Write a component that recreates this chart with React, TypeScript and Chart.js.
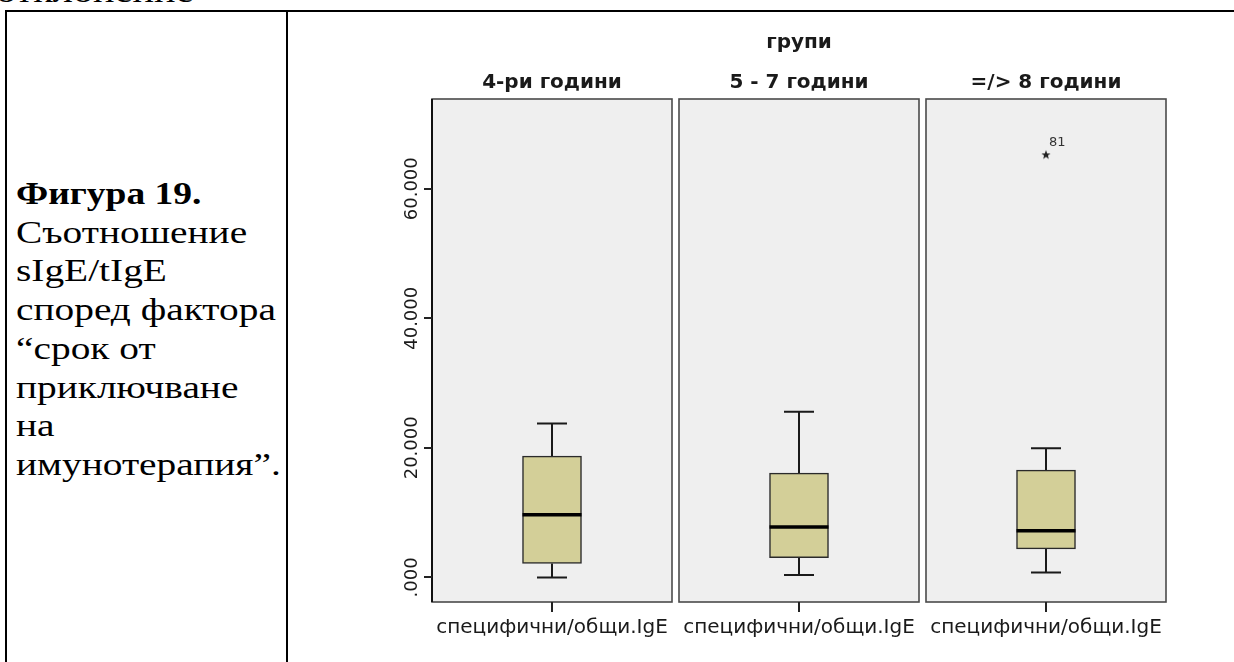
import React, { useEffect, useRef } from "react";
import { Chart, registerables } from "chart.js";

Chart.register(...registerables);

// Box-plot summary per group (SPSS style): whisker ends, quartiles, median
const groupLabels = ["4-ри години", "5 - 7 години", "=/> 8 години"];
const groupPositions = [0, 1, 2];
const whiskerLow = [0.0, 0.35, 0.77];
const quartile1 = [2.16, 3.03, 4.41];
const medians = [9.66, 7.76, 7.19];
const quartile3 = [18.72, 16.1, 16.56];
const whiskerHigh = [23.77, 25.56, 19.95];

// Extreme values (star markers) with their case numbers
const extremeGroup = [2];
const extremeValue = [65.3];
const extremeCase = ["81"];

const yTickValues = [0, 20, 40, 60];
const yTickLabels = [".000", "20.000", "40.000", "60.000"];
const variableLabel = "специфични/общи.IgE";
const factorTitle = "групи";

const captionBold = "Фигура 19.";
const captionLines = [
  "Съотношение",
  "sIgE/tIgE",
  "според фактора",
  "“срок от",
  "приключване",
  "на",
  "имунотерапия”.",
];

const PANEL_HALF = 120 / 247;
const CAP_HALF = 15;
const SANS = '"DejaVu Sans", sans-serif';

function makeStar(): HTMLCanvasElement {
  const c = document.createElement("canvas");
  c.width = 12;
  c.height = 12;
  const g = c.getContext("2d")!;
  g.fillStyle = "#222";
  g.beginPath();
  for (let k = 0; k < 10; k++) {
    const r = k % 2 === 0 ? 4.8 : 2.0;
    const a = -Math.PI / 2 + (k * Math.PI) / 5;
    const px = 6 + r * Math.cos(a);
    const py = 6.5 + r * Math.sin(a);
    if (k === 0) g.moveTo(px, py);
    else g.lineTo(px, py);
  }
  g.closePath();
  g.fill();
  return c;
}

const boxPlotDecor = {
  id: "boxPlotDecor",
  beforeDraw(chart: any) {
    const { ctx, chartArea, scales } = chart;
    const x = scales.x;
    ctx.save();
    groupPositions.forEach((p) => {
      const l = x.getPixelForValue(p - PANEL_HALF);
      const r = x.getPixelForValue(p + PANEL_HALF);
      ctx.fillStyle = "#efefef";
      ctx.fillRect(l, chartArea.top, r - l, chartArea.bottom - chartArea.top);
      ctx.strokeStyle = "#4a4a4a";
      ctx.lineWidth = 1.6;
      ctx.strokeRect(l, chartArea.top, r - l, chartArea.bottom - chartArea.top);
    });
    // value axis line along the first panel
    ctx.strokeStyle = "#111";
    ctx.lineWidth = 2;
    ctx.beginPath();
    ctx.moveTo(chartArea.left, chartArea.top);
    ctx.lineTo(chartArea.left, chartArea.bottom);
    ctx.stroke();
    ctx.restore();
  },
  beforeDatasetsDraw(chart: any) {
    const { ctx, scales } = chart;
    const x = scales.x;
    const y = scales.y;
    ctx.save();
    ctx.strokeStyle = "#1a1a1a";
    ctx.lineWidth = 2;
    groupPositions.forEach((p, i) => {
      const cx = Math.round(x.getPixelForValue(p));
      const yLo = y.getPixelForValue(whiskerLow[i]);
      const yQ1 = y.getPixelForValue(quartile1[i]);
      const yQ3 = y.getPixelForValue(quartile3[i]);
      const yHi = y.getPixelForValue(whiskerHigh[i]);
      ctx.beginPath();
      ctx.moveTo(cx, yLo);
      ctx.lineTo(cx, yQ1);
      ctx.moveTo(cx, yQ3);
      ctx.lineTo(cx, yHi);
      ctx.moveTo(cx - CAP_HALF, yLo);
      ctx.lineTo(cx + CAP_HALF, yLo);
      ctx.moveTo(cx - CAP_HALF, yHi);
      ctx.lineTo(cx + CAP_HALF, yHi);
      ctx.stroke();
    });
    ctx.restore();
  },
  afterDatasetsDraw(chart: any) {
    const { ctx, scales } = chart;
    const x = scales.x;
    const y = scales.y;
    const meta = chart.getDatasetMeta(0);
    ctx.save();
    ctx.strokeStyle = "#000";
    ctx.lineWidth = 3.5;
    groupPositions.forEach((p, i) => {
      const bar = meta.data[i];
      const half = bar.width / 2;
      const cx = x.getPixelForValue(p);
      const ym = y.getPixelForValue(medians[i]);
      ctx.beginPath();
      ctx.moveTo(cx - half, ym);
      ctx.lineTo(cx + half, ym);
      ctx.stroke();
    });
    ctx.restore();
  },
  afterDraw(chart: any) {
    const { ctx, chartArea, scales } = chart;
    const x = scales.x;
    const y = scales.y;
    ctx.save();
    ctx.fillStyle = "#1a1a1a";
    ctx.textAlign = "center";
    ctx.textBaseline = "middle";
    ctx.font = `bold 20px ${SANS}`;
    ctx.fillText(factorTitle, x.getPixelForValue(1), chartArea.top - 56);
    groupLabels.forEach((g, i) => {
      ctx.fillText(g, x.getPixelForValue(groupPositions[i]), chartArea.top - 16);
    });
    // rotated value labels on the left axis
    ctx.font = `18px ${SANS}`;
    yTickValues.forEach((v, i) => {
      const py = y.getPixelForValue(v);
      ctx.save();
      ctx.translate(chartArea.left - 20, py);
      ctx.rotate(-Math.PI / 2);
      ctx.fillText(yTickLabels[i], 0, 0);
      ctx.restore();
    });
    // case numbers beside extreme values
    ctx.font = `13px ${SANS}`;
    ctx.textAlign = "left";
    ctx.fillStyle = "#333";
    extremeGroup.forEach((g, i) => {
      const px = x.getPixelForValue(groupPositions[g]);
      const py = y.getPixelForValue(extremeValue[i]);
      ctx.fillText(extremeCase[i], px + 3, py - 12);
    });
    ctx.restore();
  },
};

function BoxPlot() {
  const ref = useRef<HTMLCanvasElement>(null);
  useEffect(() => {
    if (!ref.current) return;
    const star = makeStar();
    const chart = new Chart(ref.current, {
      type: "scatter",
      data: {
        datasets: [
          {
            type: "bar",
            data: groupPositions.map((p, i) => ({ x: p, y: [quartile1[i], quartile3[i]] })) as any,
            backgroundColor: "#d3cf98",
            borderColor: "#2a2a2a",
            borderWidth: 1.5,
            borderSkipped: false,
            barThickness: 59,
          } as any,
          {
            type: "scatter",
            data: extremeGroup.map((g, i) => ({ x: groupPositions[g], y: extremeValue[i] })),
            pointStyle: star as any,
            pointRadius: 6,
          },
        ],
      },
      options: {
        responsive: false,
        animation: false,
        events: [],
        layout: { padding: { left: 0, right: 68, top: 87, bottom: 0 } },
        plugins: {
          legend: { display: false },
          tooltip: { enabled: false },
          title: { display: false },
        },
        scales: {
          x: {
            type: "linear",
            min: -PANEL_HALF,
            max: 2 + PANEL_HALF,
            offset: false,
            afterBuildTicks: (s: any) => {
              s.ticks = groupPositions.map((v) => ({ value: v }));
            },
            afterFit: (s: any) => {
              s.height = 60;
            },
            ticks: {
              callback: () => variableLabel,
              autoSkip: false,
              maxRotation: 0,
              minRotation: 0,
              padding: 4,
              color: "#1a1a1a",
              font: { family: SANS, size: 20 },
            },
            grid: {
              offset: false,
              drawOnChartArea: false,
              drawTicks: true,
              tickLength: 10,
              color: "#222",
              lineWidth: 2,
            },
            border: { display: false },
          },
          y: {
            type: "linear",
            min: -3.8,
            max: 73.85,
            afterBuildTicks: (s: any) => {
              s.ticks = yTickValues.map((v) => ({ value: v }));
            },
            afterFit: (s: any) => {
              s.width = 144;
            },
            ticks: { display: false },
            grid: {
              drawOnChartArea: false,
              drawTicks: true,
              tickLength: 8,
              color: "#222",
              lineWidth: 2,
            },
            border: { display: false },
          },
        },
      } as any,
      plugins: [boxPlotDecor],
    });
    return () => chart.destroy();
  }, []);
  return (
    <canvas
      ref={ref}
      width={946}
      height={650}
      style={{ position: "absolute", left: 288, top: 12, width: 946, height: 650 }}
    />
  );
}

export default function App() {
  const serif = '"Liberation Serif", "Times New Roman", serif';
  return (
    <div
      style={{
        position: "fixed",
        left: 0,
        top: 0,
        width: 1234,
        height: 662,
        background: "#fff",
        overflow: "hidden",
      }}
    >
      <div
        style={{
          position: "absolute",
          left: -4,
          top: -23,
          fontFamily: serif,
          fontSize: 31,
          lineHeight: "30px",
          transform: "scaleX(1.3)",
          transformOrigin: "left top",
          color: "#000",
          whiteSpace: "nowrap",
        }}
      >
        отклонение
      </div>
      <div style={{ position: "absolute", left: 5, top: 10, width: 1229, height: 2, background: "#000" }} />
      <div style={{ position: "absolute", left: 5, top: 10, width: 2, height: 652, background: "#000" }} />
      <div style={{ position: "absolute", left: 286, top: 10, width: 2, height: 652, background: "#000" }} />
      <div
        style={{
          position: "absolute",
          left: 16,
          top: 175,
          fontFamily: serif,
          fontSize: 31,
          lineHeight: "38.7px",
          color: "#000",
          whiteSpace: "nowrap",
        }}
      >
        <div style={{ fontWeight: "bold", transform: "scaleX(1.21)", transformOrigin: "left center" }}>
          {captionBold}
        </div>
        {captionLines.map((l) => (
          <div key={l} style={{ transform: "scaleX(1.27)", transformOrigin: "left center" }}>
            {l}
          </div>
        ))}
      </div>
      <BoxPlot />
    </div>
  );
}
